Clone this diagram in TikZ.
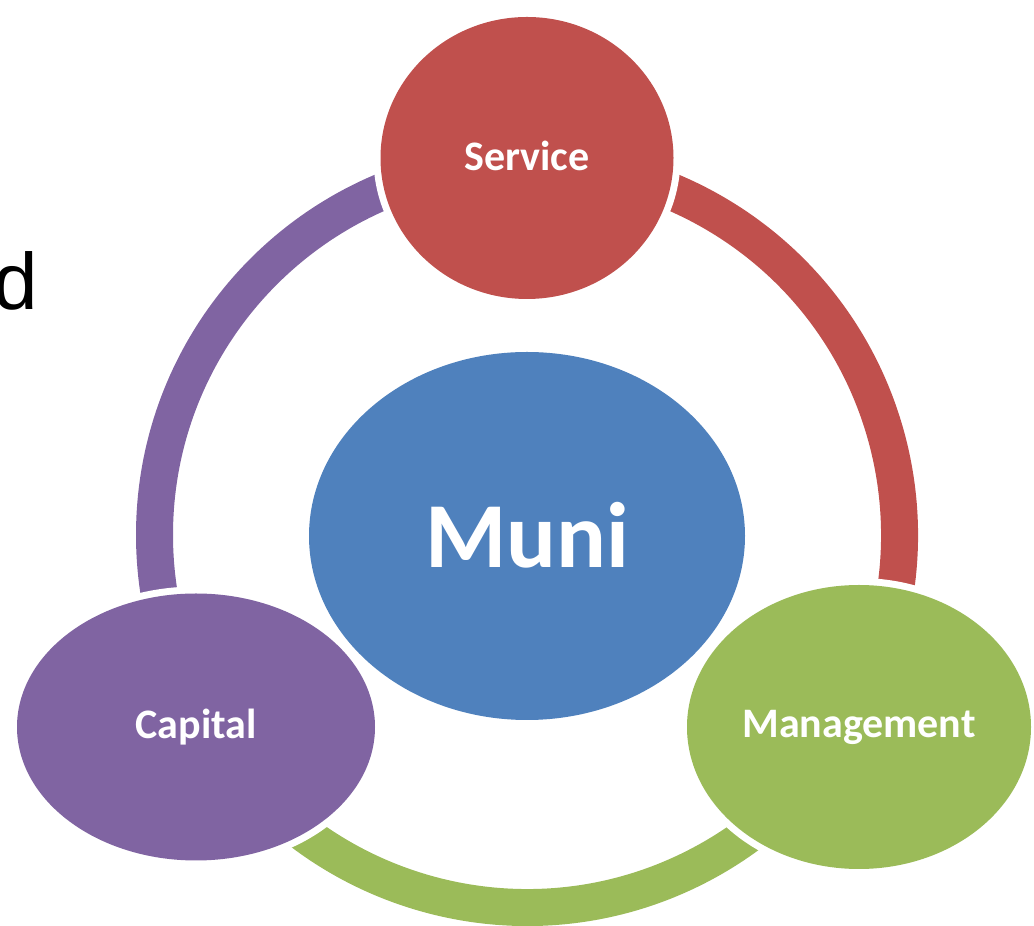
\documentclass[tikz,border=0pt]{standalone}
\usepackage{fontspec}
\setmainfont{Carlito}
\newfontfamily\arialfont{Liberation Sans}
\usetikzlibrary{shapes.geometric}
\definecolor{cred}{HTML}{C0504D}
\definecolor{cblue}{HTML}{4F81BD}
\definecolor{cpurple}{HTML}{8064A2}
\definecolor{cgreen}{HTML}{9BBB59}
\tikzset{
  bubble/.style={ellipse, inner sep=0pt, text=white, font=\bfseries,
    preaction={draw=white, line width=14pt}},
  band/.style={line width=37pt}
}
\begin{document}
\begin{tikzpicture}[x=1pt,y=1pt]
\useasboundingbox (0,0) rectangle (1034,926);
\coordinate (c) at (527,391);
% ring
\draw[band, cpurple] (c) ++(90:372.5) arc[start angle=90, end angle=210, radius=372.5];
\draw[band, cred] (c) ++(-30:372.5) arc[start angle=-30, end angle=90, radius=372.5];
\draw[band, cgreen] (c) ++(210:372.5) arc[start angle=210, end angle=330, radius=372.5];
% nodes
\node[bubble, fill=cblue, minimum width=436pt, minimum height=368pt, font=\bfseries\fontsize{93}{100}\selectfont] (muni) at (527,390) {\raisebox{3pt}{Muni}};
\node[bubble, fill=cred, minimum width=293pt, minimum height=282pt, font=\bfseries\fontsize{42}{48}\selectfont] (service) at (527,768) {\raisebox{4pt}{Service}};
\node[bubble, fill=cpurple, minimum width=358pt, minimum height=267pt, font=\bfseries\fontsize{42}{48}\selectfont] (capital) at (196,199) {Capital};
\node[bubble, fill=cgreen, minimum width=344pt, minimum height=284pt, font=\bfseries\fontsize{42}{48}\selectfont] (management) at (859,199) {Management};
% partial text at left edge
\node[anchor=base west, inner sep=0pt, font=\arialfont\fontsize{80}{90}\selectfont] (dtext) at (-7,616) {d};
\end{tikzpicture}
\end{document}
